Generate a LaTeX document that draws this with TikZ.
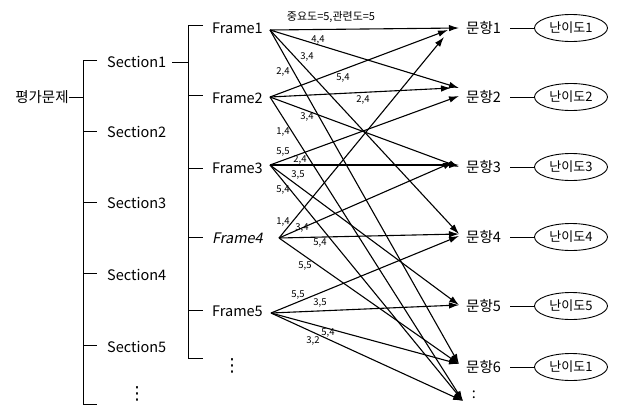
\documentclass[tikz,border=0pt]{standalone}
\usepackage{fontspec}
\setmainfont{Noto Sans CJK KR}
\newfontfamily\slantfont{Noto Sans CJK KR}[FakeSlant=0.2]
\newfontfamily\dotfont{DejaVu Sans}
\usetikzlibrary{arrows.meta,shapes.geometric}
\begin{document}
\begin{tikzpicture}[x=1pt,y=-1pt,
  txt/.style={font=\fontsize{14.5}{14.5}\selectfont, inner sep=0pt, anchor=west},
  dots/.style={font=\dotfont\fontsize{18}{18}\selectfont, inner sep=0pt},
  wt/.style={font=\fontsize{9.5}{9.5}\selectfont, inner sep=0pt},
  tree/.style={line width=0.9pt},
  edge/.style={line width=1.1pt, -{Latex[length=10pt,width=6.5pt]}},
  diff/.style={draw, ellipse, line width=0.9pt, minimum width=73pt, minimum height=27pt, inner sep=0pt, font=\fontsize{13}{13}\selectfont}
]
\useasboundingbox (0,0) rectangle (622,410);

% hierarchy
\node[txt, anchor=center] (root) at (42,97) {평가문제};
\node[txt] (sec1) at (107,62) {Section1};
\node[txt] (sec2) at (107,132) {Section2};
\node[txt] (sec3) at (107,203) {Section3};
\node[txt] (sec4) at (107,275) {Section4};
\node[txt] (sec5) at (107,347) {Section5};
\node[dots] (secd) at (137,394) {⋮};

\node[txt] (fr1) at (212,28) {Frame1};
\node[txt] (fr2) at (212,98) {Frame2};
\node[txt] (fr3) at (212,168) {Frame3};
\node[txt] (fr4) at (212,238) {\slantfont Frame4};
\node[txt] (fr5) at (212,311) {Frame5};
\node[dots] (frd) at (232,366) {⋮};

\coordinate (ra) at (83,97);
\draw[tree] (root.east) -- (ra);
\draw[tree] (97,60) -- (83,60) -- (83,404) -- (97,404);
\foreach \y in {131,202,273,345} \draw[tree] (83,\y) -- (97,\y);
\coordinate (fa) at (188,62);
\draw[tree] ([xshift=6pt]sec1.east) -- (fa);
\draw[tree] (203,25) -- (188,25) -- (188,358) -- (203,358);
\foreach \y in {95,168,237,310} \draw[tree] (188,\y) -- (203,\y);

% items and difficulties
\node[txt] (q1) at (466,28) {문항1};
\node[txt] (q2) at (466,97) {문항2};
\node[txt] (q3) at (466,167) {문항3};
\node[txt] (q4) at (466,237) {문항4};
\node[txt] (q5) at (466,306) {문항5};
\node[txt] (q6) at (466,367) {문항6};
\node[txt, anchor=center] (qd) at (474,395) {:};

\node[diff] (d1) at (571,28) {난이도1};
\node[diff] (d2) at (571,97) {난이도2};
\node[diff] (d3) at (571,167) {난이도3};
\node[diff] (d4) at (571,237) {난이도4};
\node[diff] (d5) at (571,306) {난이도5};
\node[diff] (d6) at (571,367) {난이도1};
\foreach \i in {1,...,6} \draw[tree] ([xshift=9pt]q\i.east) -- (d\i);

% sources
\coordinate (s1) at (270,30);
\coordinate (s2) at (270,97);
\coordinate (s3) at (270,165);
\coordinate (s4) at (279,238);
\coordinate (s5) at (271,313);
% tips
\coordinate (t1a) at (459,28);
\coordinate (t1b) at (448,30);
\coordinate (t1c) at (444,37);
\coordinate (t2a) at (459,88);
\coordinate (t2c) at (451,88);
\coordinate (t2b) at (459,96);
\coordinate (t3a) at (459,167);
\coordinate (t3) at (459,165);
\coordinate (t3b) at (453,162);
\coordinate (t4) at (459,234);
\coordinate (t4b) at (459,236);
\coordinate (t5) at (459,305);
\coordinate (t6) at (459,364);
\coordinate (td) at (463,401);

% edges
\draw[edge] (s1) -- (t1a);
\draw[edge] (s1) -- (t2a);
\draw[edge] (s1) -- (t4);
\draw[edge] (s1) -- (t6);
\draw[edge] (s2) -- (t1b);
\draw[edge] (s2) -- (t2c);
\draw[edge] (s2) -- (t3a);
\draw[edge] (s2) -- (td);
\draw[edge] (s3) -- (t2b);
\draw[edge] (s3) -- (t3);
\draw[edge] (s3) -- (t5);
\draw[edge] (s3) -- (td);
\draw[edge] (s4) -- (t1c);
\draw[edge] (s4) -- (t3b);
\draw[edge] (s4) -- (t4);
\draw[edge] (s4) -- (t6);
\draw[edge] (s5) -- (t4b);
\draw[edge] (s5) -- (t5);
\draw[edge] (s5) -- (t6);
\draw[edge] (s5) -- (td);

% weights
\node[wt, font=\fontsize{11}{11}\selectfont] (w11) at (331,17) {중요도=5,관련도=5};
\node[wt] (w12) at (318,40) {4,4};
\node[wt] (w13) at (307,57) {3,4};
\node[wt] (w14) at (283,72) {2,4};
\node[wt] (w21) at (343,78) {5,4};
\node[wt] (w22) at (363,100) {2,4};
\node[wt] (w23) at (307,117) {3,4};
\node[wt] (w24) at (283,132) {1,4};
\node[wt] (w31) at (283,152) {5,5};
\node[wt] (w32) at (300,160) {2,4};
\node[wt] (w33) at (298,175) {3,5};
\node[wt] (w34) at (283,190) {5,4};
\node[wt] (w41) at (283,222) {1,4};
\node[wt] (w42) at (302,228) {3,4};
\node[wt] (w43) at (320,243) {5,4};
\node[wt] (w44) at (305,266) {5,5};
\node[wt] (w51) at (298,295) {5,5};
\node[wt] (w52) at (320,303) {3,5};
\node[wt] (w53) at (328,333) {5,4};
\node[wt] (w54) at (313,341) {3,2};
\end{tikzpicture}
\end{document}
